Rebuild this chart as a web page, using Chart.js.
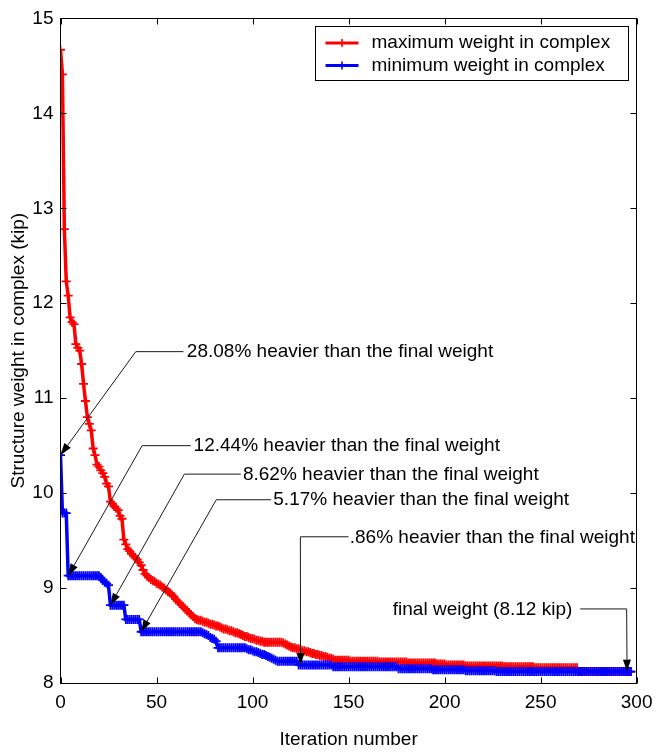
<!DOCTYPE html>
<html><head><meta charset="utf-8">
<script src="https://cdn.jsdelivr.net/npm/chart.js@4.4.1/dist/chart.umd.min.js"></script>
<style>html,body{margin:0;padding:0;background:#fff;}#wrap{width:661px;height:755px;}</style>
</head><body><div id="wrap"><canvas id="c" width="661" height="755"></canvas></div>
<script>
// ---- data (one value per iteration, 0..297) ----
const maxWeight = [
14.67,14.41,12.78,12.23,12.08,11.85,11.80,11.78,11.57,11.53,
11.50,11.36,11.15,10.97,10.80,10.73,10.66,10.47,10.40,10.30,
10.28,10.24,10.21,10.17,10.10,10.07,9.91,9.89,9.86,9.84,
9.82,9.76,9.73,9.51,9.46,9.41,9.39,9.36,9.34,9.32,
9.30,9.27,9.24,9.19,9.15,9.13,9.11,9.09,9.08,9.07,
9.05,9.04,9.03,9.01,9.00,8.98,8.96,8.95,8.93,8.91,
8.88,8.86,8.84,8.82,8.80,8.78,8.76,8.74,8.72,8.70,
8.68,8.67,8.66,8.66,8.65,8.64,8.64,8.63,8.62,8.62,
8.61,8.60,8.60,8.59,8.58,8.57,8.57,8.56,8.55,8.55,
8.54,8.53,8.53,8.52,8.51,8.50,8.49,8.49,8.48,8.47,
8.47,8.46,8.45,8.45,8.44,8.44,8.43,8.43,8.43,8.43,
8.43,8.43,8.43,8.43,8.43,8.43,8.42,8.41,8.40,8.39,
8.38,8.37,8.37,8.36,8.36,8.35,8.34,8.34,8.33,8.33,
8.32,8.31,8.31,8.30,8.30,8.29,8.29,8.28,8.28,8.27,
8.26,8.26,8.25,8.24,8.24,8.24,8.24,8.24,8.24,8.24,
8.24,8.23,8.23,8.23,8.23,8.23,8.23,8.23,8.23,8.23,
8.23,8.23,8.23,8.23,8.23,8.23,8.22,8.22,8.22,8.22,
8.22,8.22,8.22,8.22,8.22,8.22,8.22,8.22,8.22,8.22,
8.22,8.21,8.21,8.21,8.21,8.21,8.21,8.21,8.21,8.21,
8.21,8.21,8.21,8.21,8.21,8.21,8.20,8.20,8.20,8.20,
8.20,8.19,8.19,8.19,8.19,8.19,8.19,8.19,8.19,8.19,
8.19,8.18,8.18,8.18,8.18,8.18,8.18,8.18,8.18,8.18,
8.18,8.18,8.18,8.18,8.18,8.18,8.18,8.18,8.18,8.18,
8.18,8.17,8.17,8.17,8.17,8.17,8.17,8.17,8.17,8.17,
8.17,8.17,8.17,8.17,8.17,8.17,8.17,8.16,8.16,8.16,
8.16,8.16,8.16,8.16,8.16,8.16,8.16,8.16,8.16,8.16,
8.16,8.16,8.16,8.16,8.16,8.16,8.16,8.16,8.16,8.16,
8.12,8.12,8.12,8.12,8.12,8.12,8.12,8.12,8.12,8.12,
8.12,8.12,8.12,8.12,8.12,8.12,8.12,8.12,8.12,8.12,
8.12,8.12,8.12,8.12,8.12,8.12,8.12,8.12
];
const minWeight = [
10.40,9.79,9.79,9.79,9.13,9.13,9.13,9.13,9.13,9.13,
9.13,9.13,9.13,9.13,9.13,9.13,9.13,9.13,9.13,9.13,
9.13,9.11,9.08,9.06,9.05,9.03,8.82,8.82,8.82,8.82,
8.82,8.82,8.82,8.82,8.67,8.67,8.67,8.67,8.67,8.67,
8.67,8.67,8.54,8.54,8.54,8.54,8.54,8.54,8.54,8.54,
8.54,8.54,8.54,8.54,8.54,8.54,8.54,8.54,8.54,8.54,
8.54,8.54,8.54,8.54,8.54,8.54,8.54,8.54,8.54,8.54,
8.54,8.54,8.54,8.54,8.53,8.52,8.51,8.50,8.48,8.47,
8.46,8.44,8.37,8.37,8.37,8.37,8.37,8.37,8.37,8.37,
8.37,8.37,8.37,8.37,8.37,8.37,8.37,8.36,8.35,8.35,
8.34,8.33,8.33,8.32,8.31,8.30,8.30,8.29,8.28,8.27,
8.26,8.25,8.24,8.23,8.23,8.23,8.23,8.23,8.23,8.23,
8.23,8.23,8.23,8.23,8.19,8.19,8.19,8.19,8.19,8.19,
8.19,8.19,8.19,8.19,8.19,8.19,8.19,8.19,8.19,8.19,
8.19,8.19,8.17,8.17,8.17,8.17,8.17,8.17,8.17,8.17,
8.17,8.17,8.17,8.17,8.17,8.17,8.17,8.17,8.17,8.17,
8.17,8.17,8.17,8.17,8.17,8.17,8.17,8.17,8.17,8.17,
8.17,8.17,8.17,8.17,8.17,8.17,8.15,8.15,8.15,8.15,
8.15,8.15,8.15,8.15,8.15,8.15,8.15,8.15,8.15,8.15,
8.15,8.15,8.15,8.15,8.14,8.14,8.14,8.14,8.14,8.14,
8.14,8.14,8.14,8.14,8.14,8.14,8.14,8.14,8.14,8.14,
8.14,8.13,8.13,8.13,8.13,8.13,8.13,8.13,8.13,8.13,
8.13,8.13,8.13,8.13,8.13,8.13,8.13,8.12,8.12,8.12,
8.12,8.12,8.12,8.12,8.12,8.12,8.12,8.12,8.12,8.12,
8.12,8.12,8.12,8.12,8.12,8.12,8.12,8.12,8.12,8.12,
8.12,8.12,8.12,8.12,8.12,8.12,8.12,8.12,8.12,8.12,
8.12,8.12,8.12,8.12,8.12,8.12,8.12,8.12,8.12,8.12,
8.12,8.12,8.12,8.12,8.12,8.12,8.12,8.12,8.12,8.12,
8.12,8.12,8.12,8.12,8.12,8.12,8.12,8.12,8.12,8.12,
8.12,8.12,8.12,8.12,8.12,8.12,8.12,8.12
];
const seriesNames = ['maximum weight in complex', 'minimum weight in complex'];
const xTickValues = [0, 50, 100, 150, 200, 250, 300];
const yTickValues = [8, 9, 10, 11, 12, 13, 14, 15];
const xTitle = 'Iteration number';
const yTitle = 'Structure weight in complex (kip)';
// annotations: tip = iteration index on the min-weight series
const noteTexts = [
  '28.08% heavier than the final weight',
  '12.44% heavier than the final weight',
  '8.62% heavier than the final weight',
  '5.17% heavier than the final weight',
  '.86% heavier than the final weight',
  'final weight (8.12 kip)'
];
const noteTipIter = [0, 4, 26, 42, 125, 295];
</script>
<script>
const iterations = minWeight.map((_, i) => i);
const FONT = '"Liberation Sans", Arial, sans-serif';
Chart.defaults.font.family = FONT;
Chart.defaults.color = '#000';

// leader geometry in data units (elbow x, elbow y, line end x, text x, align)
const noteGeom = [
  {elbow:[39.2, 11.49], lineEnd:64.0, textX:65.8, align:'left'},
  {elbow:[42.5, 10.50], lineEnd:67.8, textX:69.3, align:'left'},
  {elbow:[64.5, 10.20], lineEnd:93.9, textX:95.0, align:'left'},
  {elbow:[81.1, 9.93], lineEnd:109.7, textX:110.8, align:'left'},
  {elbow:[124.9, 9.54], lineEnd:150.0, textX:150.6, align:'left'},
  {elbow:[294.8, 8.78], lineEnd:270.6, textX:266.5, align:'right'}
];

const decor = {
  id: 'decor',
  afterDatasetsDraw(chart) {
    const ctx = chart.ctx, a = chart.chartArea;
    const xs = chart.scales.x, ys = chart.scales.y;
    ctx.save();
    // axes box
    const L = Math.floor(a.left) + 0.5, R = Math.floor(a.right) + 0.5;
    const T = Math.floor(a.top) + 0.5, B = Math.floor(a.bottom) + 0.5;
    ctx.strokeStyle = '#000'; ctx.lineWidth = 1;
    ctx.strokeRect(L, T, R - L, B - T);
    // inward ticks
    const tl = 6;
    ctx.beginPath();
    xTickValues.forEach(v => {
      const px = Math.round(xs.getPixelForValue(v)) + 0.5;
      ctx.moveTo(px, B); ctx.lineTo(px, B - tl);
      ctx.moveTo(px, T); ctx.lineTo(px, T + tl);
    });
    yTickValues.forEach(v => {
      const py = Math.round(ys.getPixelForValue(v)) + 0.5;
      ctx.moveTo(L, py); ctx.lineTo(L + tl, py);
      ctx.moveTo(R, py); ctx.lineTo(R - tl, py);
    });
    ctx.stroke();

    // legend
    const lw = 313, lh = 54;
    const lx = Math.round(a.right - 9 - lw) + 0.5, ly = Math.round(a.top + 8) + 0.5;
    ctx.fillStyle = '#fff';
    ctx.fillRect(lx, ly, lw, lh);
    ctx.strokeStyle = '#000'; ctx.lineWidth = 1;
    ctx.strokeRect(lx, ly, lw, lh);
    const colors = ['#ff0000', '#0000ff'];
    ctx.font = '19px ' + FONT;
    ctx.textBaseline = 'middle'; ctx.textAlign = 'left';
    seriesNames.forEach((name, i) => {
      const yy = ly + 16.6 + i * 22.4;
      ctx.strokeStyle = colors[i]; ctx.lineWidth = 3;
      ctx.beginPath(); ctx.moveTo(lx + 10, yy); ctx.lineTo(lx + 43, yy); ctx.stroke();
      ctx.lineWidth = 1.6;
      const cx = lx + 26.5;
      ctx.beginPath(); ctx.moveTo(cx - 4, yy); ctx.lineTo(cx + 4, yy);
      ctx.moveTo(cx, yy - 4); ctx.lineTo(cx, yy + 4); ctx.stroke();
      ctx.fillStyle = '#000';
      ctx.fillText(name, lx + 56, yy);
    });

    // annotations
    noteTexts.forEach((txt, i) => {
      const g = noteGeom[i];
      const ti = noteTipIter[i];
      const tx = xs.getPixelForValue(ti), ty = ys.getPixelForValue(minWeight[ti]);
      const ex = xs.getPixelForValue(g.elbow[0]), ey = ys.getPixelForValue(g.elbow[1]);
      const le = xs.getPixelForValue(g.lineEnd);
      const dx = tx - ex, dy = ty - ey, len = Math.hypot(dx, dy);
      const ux = dx / len, uy = dy / len;
      const hl = 12, hw = 4;
      const bx = tx - ux * hl, by = ty - uy * hl;
      ctx.strokeStyle = '#1a1a1a'; ctx.lineWidth = 1;
      ctx.beginPath();
      ctx.moveTo(le, ey); ctx.lineTo(ex, ey); ctx.lineTo(bx, by);
      ctx.stroke();
      ctx.fillStyle = '#000';
      ctx.beginPath();
      ctx.moveTo(tx, ty);
      ctx.lineTo(bx - uy * hw, by + ux * hw);
      ctx.lineTo(bx + uy * hw, by - ux * hw);
      ctx.closePath(); ctx.fill();
      ctx.font = '19px ' + FONT;
      ctx.textAlign = g.align; ctx.textBaseline = 'middle';
      ctx.fillText(txt, xs.getPixelForValue(g.textX), ey + 0.5);
    });
    ctx.restore();
  }
};

new Chart(document.getElementById('c').getContext('2d'), {
  type: 'line',
  data: {
    labels: iterations,
    datasets: [
      {label: seriesNames[0], data: maxWeight, borderColor: '#ff0000', backgroundColor: '#ff0000',
       pointBorderColor: '#ff0000', borderWidth: 3.5, pointStyle: 'cross', pointRadius: 4.5,
       pointBorderWidth: 1.8, tension: 0, order: 2},
      {label: seriesNames[1], data: minWeight, borderColor: '#0000ff', backgroundColor: '#0000ff',
       pointBorderColor: '#0000ff', borderWidth: 3.5, pointStyle: 'cross', pointRadius: 4.5,
       pointBorderWidth: 1.8, tension: 0, order: 1}
    ]
  },
  options: {
    responsive: false, animation: false, devicePixelRatio: 1,
    layout: {padding: {top: 14.5, right: 18, left: 0, bottom: 0}},
    plugins: {legend: {display: false}, tooltip: {enabled: false}},
    scales: {
      x: {
        type: 'linear', min: 0, max: 300,
        afterBuildTicks: s => { s.ticks = xTickValues.map(v => ({value: v})); },
        grid: {display: false, drawTicks: false}, border: {display: false},
        ticks: {padding: 8.5, color: '#000', font: {size: 19}, maxRotation: 0, autoSkip: false},
        title: {display: true, text: xTitle, color: '#000', font: {size: 19}, padding: {top: 0, bottom: 3.6}},
        afterFit: s => { s.height = 72; }
      },
      y: {
        type: 'linear', min: 8, max: 15,
        afterBuildTicks: s => { s.ticks = yTickValues.map(v => ({value: v})); },
        grid: {display: false, drawTicks: false}, border: {display: false},
        ticks: {padding: 7, color: '#000', font: {size: 19}, autoSkip: false},
        title: {display: true, text: yTitle, color: '#000', font: {size: 19}, padding: {top: 7, bottom: 0}},
        afterFit: s => { s.width = 60.5; }
      }
    }
  },
  plugins: [decor]
});
</script>
</body></html>
